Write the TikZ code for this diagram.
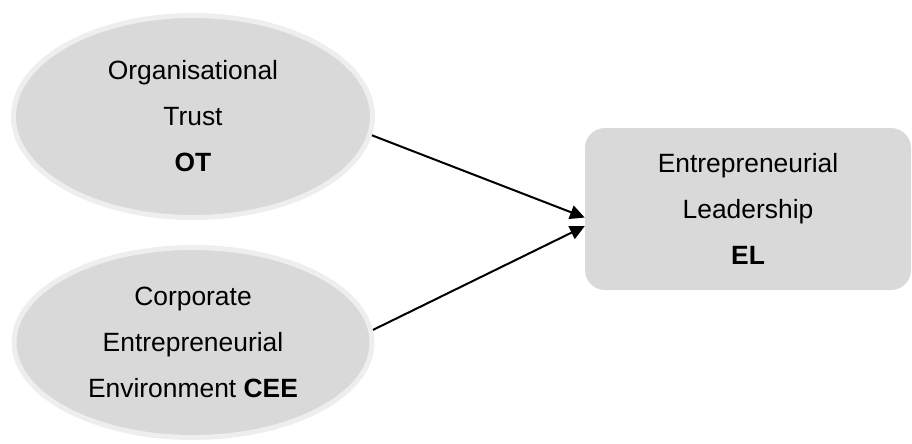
\documentclass[tikz,border=0pt]{standalone}
\usepackage{fontspec}
\setmainfont{Liberation Sans}
\usepackage{tikz}
\usetikzlibrary{shapes.geometric,arrows.meta,positioning}
\definecolor{cinzaFundo}{RGB}{217,217,217}
\definecolor{cinzaBorda}{RGB}{238,238,238}
\tikzset{
  construct/.style={ellipse, draw=cinzaBorda, line width=3.75pt, fill=cinzaFundo,
                    inner sep=0pt, align=center,
                    font=\fontsize{19.8pt}{34.5pt}\selectfont},
  outcome/.style={rectangle, fill=cinzaFundo, rounded corners=15pt,
                  minimum width=244.5pt, minimum height=121.5pt, inner sep=0pt,
                  align=center, font=\fontsize{19.8pt}{34.5pt}\selectfont},
  link/.style={-{Triangle[length=11pt,width=10.5pt]}, line width=1.5pt, black},
}
\begin{document}
\begin{tikzpicture}[x=0.75pt, y=-0.75pt]
  \useasboundingbox (0,0) rectangle (912,443);
  \node[construct, minimum width=269.25pt, minimum height=151.5pt] (ot) at (193,116.5)
       {Organisational\\Trust\\\textbf{OT}};
  \node[construct, minimum width=268.5pt, minimum height=142.5pt, below=18.75pt of ot] (cee)
       {Corporate\\Entrepreneurial\\Environment \textbf{CEE}};
  \node[outcome] (el) at (748,209) {Entrepreneurial\\Leadership\\\textbf{EL}};
  \draw[link] (ot.-6) -- (el.183);
  \draw[link] (cee.4) -- (el.186);
\end{tikzpicture}
\end{document}
